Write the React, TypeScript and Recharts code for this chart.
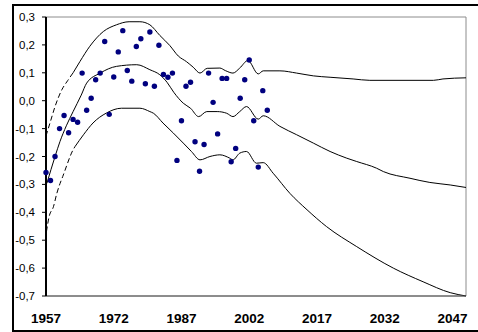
import {
  ComposedChart,
  Line,
  Scatter,
  XAxis,
  YAxis,
  ReferenceArea,
} from "recharts";

// observed points, one per year
const obsYears = [
  1957, 1958, 1959, 1960, 1961, 1962, 1963, 1964, 1965, 1966,
  1967, 1968, 1969, 1970, 1971, 1972, 1973, 1974, 1975, 1976,
  1977, 1978, 1979, 1980, 1981, 1982, 1983, 1984, 1985, 1986,
  1987, 1988, 1989, 1990, 1991, 1992, 1993, 1994, 1995, 1996,
  1997, 1998, 1999, 2000, 2001, 2002, 2003, 2004, 2005, 2006,
];
const obsValues = [
  -0.257, -0.286, -0.2, -0.1, -0.053, -0.115, -0.067, -0.077, 0.099, -0.034,
  0.009, 0.075, 0.099, 0.212, -0.049, 0.085, 0.175, 0.251, 0.108, 0.07,
  0.194, 0.222, 0.061, 0.246, 0.052, 0.199, 0.094, 0.084, 0.099, -0.214,
  -0.072, 0.052, 0.066, -0.147, -0.253, -0.157, 0.099, -0.006, -0.119, 0.08,
  0.08, -0.219, -0.171, 0.009, 0.075, 0.146, -0.072, -0.238, 0.036, -0.034,
];

// upper band
const upperDashYears = [1957.0, 1957.9, 1959.0, 1960.5, 1961.8, 1963.0];
const upperDashValues = [-0.126, -0.079, -0.021, 0.039, 0.072, 0.1];
const upperYears = [
  1963.0, 1964.5, 1966.7, 1969.7, 1972.6, 1975.4, 1977.8, 1980.0, 1982.2, 1984.4,
  1986.3, 1988.1, 1989.6, 1991.1, 1992.7, 1995.5, 1996.7, 1998.4, 1999.9, 2001.7,
  2004.0, 2005.1, 2008.8, 2012.5, 2016.2, 2019.9, 2025.0, 2028.7, 2042.8, 2044.9,
  2050.0,
];
const upperValues = [
  0.1, 0.14, 0.195, 0.248, 0.272, 0.283, 0.283, 0.272, 0.234, 0.198,
  0.16, 0.14, 0.12, 0.099, 0.116, 0.117, 0.108, 0.099, 0.117, 0.144,
  0.096, 0.107, 0.107, 0.099, 0.089, 0.084, 0.078, 0.073, 0.073, 0.078,
  0.082,
];

// central estimate
const midYears = [
  1957.2, 1959.0, 1960.1, 1961.5, 1963.0, 1964.8, 1966.0, 1969.0, 1972.6, 1977.1,
  1980.0, 1982.2, 1983.8, 1985.3, 1987.4, 1989.0, 1990.8, 1992.6, 1994.9, 1997.0,
  1998.4, 1999.9, 2001.4, 2004.0, 2005.1, 2008.8, 2012.5, 2016.2, 2019.9, 2023.6,
  2025.8, 2030.2, 2031.7, 2037.6, 2042.0, 2046.5, 2050.0,
];
const midValues = [
  -0.296, -0.2, -0.146, -0.09, -0.039, 0.02, 0.063, 0.099, 0.123, 0.129,
  0.111, 0.093, 0.066, 0.03, -0.009, -0.027, -0.057, -0.039, -0.039, -0.045,
  -0.057, -0.039, -0.021, -0.066, -0.054, -0.092, -0.122, -0.152, -0.182, -0.206,
  -0.218, -0.242, -0.254, -0.278, -0.293, -0.302, -0.311,
];

// lower band
const lowerDashYears = [1957.1, 1957.7, 1958.65, 1959.4, 1960.1, 1960.7, 1963.0, 1963.4];
const lowerDashValues = [-0.469, -0.415, -0.38, -0.332, -0.297, -0.272, -0.176, -0.165];
const lowerYears = [
  1963.4, 1965.3, 1967.4, 1970.4, 1973.7, 1977.8, 1980.0, 1980.8, 1982.9, 1985.2,
  1987.4, 1989.2, 1991.1, 1993.3, 1995.5, 1997.7, 1998.4, 1999.9, 2001.4, 2003.6,
  2005.1, 2007.3, 2011.0, 2014.8, 2019.1, 2025.8, 2033.9, 2040.5, 2046.5, 2050.0,
];
const lowerValues = [
  -0.165, -0.122, -0.08, -0.044, -0.027, -0.027, -0.039, -0.045, -0.08, -0.116,
  -0.152, -0.182, -0.212, -0.2, -0.194, -0.206, -0.212, -0.188, -0.182, -0.224,
  -0.222, -0.26, -0.332, -0.391, -0.451, -0.523, -0.6, -0.649, -0.688, -0.7,
];

const xTicks = [1957, 1972, 1987, 2002, 2017, 2032, 2047];
const yTicks = [-0.7, -0.6, -0.5, -0.4, -0.3, -0.2, -0.1, 0, 0.1, 0.2, 0.3];

const toRows = (xs: number[], ys: number[]) =>
  xs.map((year, i) => ({ year, value: ys[i] }));

const Dot = (props: any) => (
  <circle cx={props.cx} cy={props.cy} r={2.7} fill="#00007f" />
);

const font = "'Liberation Sans', Arial, sans-serif";

export default function App() {
  return (
    <div style={{ position: "absolute", left: 0, top: 0, width: 478, height: 332, background: "#fff" }}>
      <div
        style={{
          position: "absolute",
          left: 12,
          top: 4,
          width: 480,
          height: 324,
          border: "2px solid #000",
        }}
      />
      <ComposedChart
        width={478}
        height={332}
        margin={{ top: 17, right: 12, bottom: 0, left: 0 }}
        style={{ position: "absolute", left: 0, top: 0 }}
      >
        <ReferenceArea
          x1={1957}
          x2={2050}
          y1={-0.7}
          y2={0.3}
          fill="none"
          stroke="#8c8c8c"
          strokeWidth={1}
        />
        <XAxis
          type="number"
          dataKey="year"
          domain={[1957, 2050]}
          ticks={xTicks}
          interval={0}
          height={36}
          axisLine={{ stroke: "#555", strokeWidth: 1 }}
          tickLine={false}
          tickSize={6}
          tickMargin={11}
          tick={{ fill: "#000", fontSize: 13.5, fontWeight: "bold", fontFamily: font }}
        />
        <YAxis
          type="number"
          dataKey="value"
          domain={[-0.7, 0.3]}
          ticks={yTicks}
          interval={0}
          width={46}
          axisLine={{ stroke: "#000", strokeWidth: 2 }}
          tickLine={{ stroke: "#000" }}
          tickSize={4}
          tickMargin={7}
          tickFormatter={(v: number) => v.toFixed(1).replace(".", ",")}
          tick={{ fill: "#000", fontSize: 11.5, fontFamily: font }}
        />
        <Line
          data={toRows(upperDashYears, upperDashValues)}
          dataKey="value"
          type="monotone"
          stroke="#000"
          strokeWidth={1}
          strokeDasharray="5 3"
          dot={false}
          isAnimationActive={false}
        />
        <Line
          data={toRows(upperYears, upperValues)}
          dataKey="value"
          type="monotone"
          stroke="#000"
          strokeWidth={1}
          dot={false}
          isAnimationActive={false}
        />
        <Line
          data={toRows(midYears, midValues)}
          dataKey="value"
          type="monotone"
          stroke="#000"
          strokeWidth={1}
          dot={false}
          isAnimationActive={false}
        />
        <Line
          data={toRows(lowerDashYears, lowerDashValues)}
          dataKey="value"
          type="monotone"
          stroke="#000"
          strokeWidth={1}
          strokeDasharray="5 3"
          dot={false}
          isAnimationActive={false}
        />
        <Line
          data={toRows(lowerYears, lowerValues)}
          dataKey="value"
          type="monotone"
          stroke="#000"
          strokeWidth={1}
          dot={false}
          isAnimationActive={false}
        />
        <Scatter
          data={toRows(obsYears, obsValues)}
          dataKey="value"
          shape={<Dot />}
          isAnimationActive={false}
        />
      </ComposedChart>
    </div>
  );
}
